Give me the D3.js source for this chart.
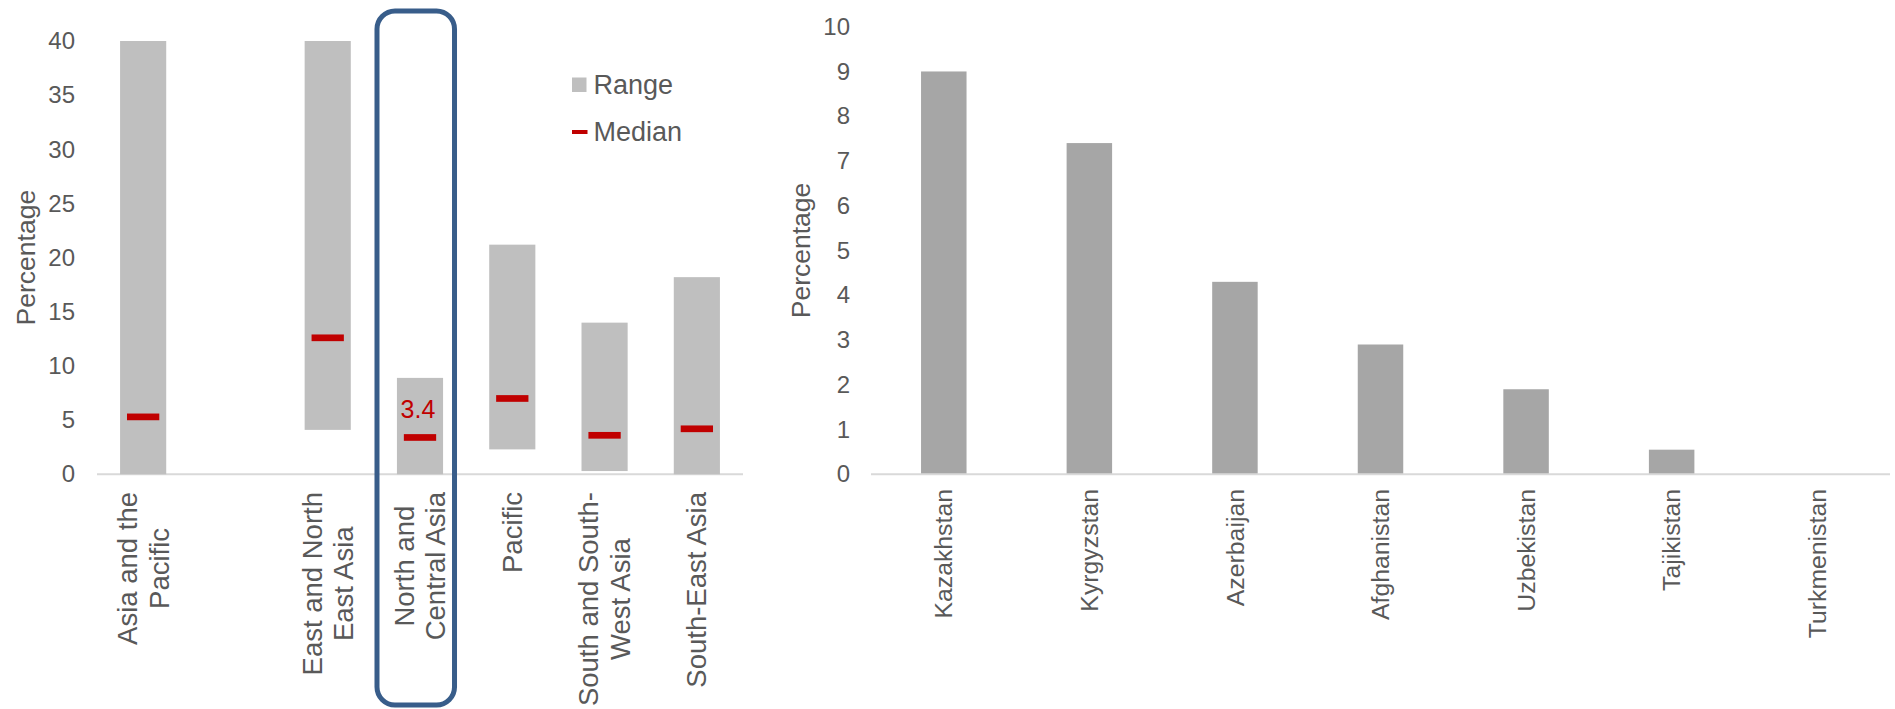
<!DOCTYPE html>
<html>
<head>
<meta charset="utf-8">
<script src="https://cdn.jsdelivr.net/npm/d3@7"></script>
<style>
  html, body { margin: 0; padding: 0; background: #ffffff; }
  svg { display: block; font-family: "Liberation Sans", Arial, sans-serif; }
</style>
</head>
<body>
<svg id="chart" width="1895" height="709"></svg>
<script>
// ---------- Data: left panel (regional range and median) ----------
const regions = [
  "Asia and the|Pacific",
  "",
  "East and North|East Asia",
  "North and|Central Asia",
  "Pacific",
  "South and South-|West Asia",
  "South-East Asia"
];
const rangeMin = [0, null, 4.1, 0, 2.3, 0.3, 0];
const rangeMax = [40, null, 40, 8.9, 21.2, 14.0, 18.2];
const medians  = [5.3, null, 12.6, 3.4, 7.0, 3.6, 4.2];
const highlightRegion = "North and|Central Asia";
const highlightLabel = "3.4";
const leftTicks = [0, 5, 10, 15, 20, 25, 30, 35, 40];

// ---------- Data: right panel (North and Central Asia countries) ----------
const countries = ["Kazakhstan", "Kyrgyzstan", "Azerbaijan", "Afghanistan", "Uzbekistan", "Tajikistan", "Turkmenistan"];
const countryValues = [9.0, 7.4, 4.3, 2.9, 1.9, 0.55, 0];
const rightTicks = [0, 1, 2, 3, 4, 5, 6, 7, 8, 9, 10];

const legendItems = ["Range", "Median"];
const yTitle = "Percentage";

// ---------- Styles ----------
const TEXT = "#595959";
const RANGE_FILL = "#bfbfbf";
const MEDIAN_FILL = "#c00000";
const BAR_FILL = "#a6a6a6";
const AXIS_LINE = "#d9d9d9";
const BOX = "#385d8a";
const TICK_FS = 24;

const svg = d3.select("#chart");

// ---------- Left panel ----------
const L = { x0: 97, x1: 743, yTop: 41, yBot: 474.3 };
const xL = d3.scaleBand().domain(regions).range([L.x0, L.x1]).paddingInner(0.5).paddingOuter(0.25);
const yL = d3.scaleLinear().domain([0, 40]).range([L.yBot, L.yTop]);

const left = svg.append("g");

// y tick labels
const axL = d3.axisLeft(yL).tickValues(leftTicks).tickSize(0).tickPadding(0);
const gAxL = left.append("g").attr("transform", `translate(75,0)`).call(axL);
gAxL.select(".domain").remove();
gAxL.selectAll("text").attr("fill", TEXT).style("font-size", TICK_FS + "px")
  .style("font-family", "'Liberation Sans', Arial, sans-serif");

// baseline
left.append("line").attr("x1", L.x0).attr("x2", L.x1)
  .attr("y1", yL(0)).attr("y2", yL(0)).attr("stroke", AXIS_LINE).attr("stroke-width", 2);

const leftData = regions.map((r, i) => ({ r, lo: rangeMin[i], hi: rangeMax[i], med: medians[i] }))
  .filter(d => d.hi !== null);

// range bars
left.selectAll("rect.range").data(leftData).join("rect")
  .attr("class", "range")
  .attr("x", d => xL(d.r))
  .attr("width", xL.bandwidth())
  .attr("y", d => yL(d.hi))
  .attr("height", d => yL(d.lo) - yL(d.hi))
  .attr("fill", RANGE_FILL);

// median markers
const medW = xL.bandwidth() * 0.7, medH = 6.7;
left.selectAll("rect.median").data(leftData).join("rect")
  .attr("class", "median")
  .attr("x", d => xL(d.r) + (xL.bandwidth() - medW) / 2)
  .attr("width", medW)
  .attr("y", d => yL(d.med) - medH / 2)
  .attr("height", medH)
  .attr("fill", MEDIAN_FILL);

// median label for highlighted region
const hi = leftData.find(d => d.r === highlightRegion);
left.append("text")
  .attr("x", xL(hi.r) + xL.bandwidth() / 2 - 2)
  .attr("y", yL(hi.med) - 19)
  .attr("text-anchor", "middle")
  .attr("fill", MEDIAN_FILL)
  .style("font-size", "25px")
  .text(highlightLabel);

// category labels (rotated, multi-line, centered lines, top aligned)
function drawRotatedLabels(g, cats, scale, top, fs, lh) {
  cats.forEach(c => {
    if (!c) return;
    const lines = c.split("|");
    const cx = scale(c) + scale.bandwidth() / 2;
    const grp = g.append("g").attr("transform", `translate(${cx},${top}) rotate(-90)`);
    const texts = lines.map((ln, i) => grp.append("text")
      .attr("text-anchor", "middle")
      .attr("fill", TEXT)
      .style("font-size", fs + "px")
      .attr("y", (i - (lines.length - 1) / 2) * lh + 0.35 * fs)
      .text(ln));
    const maxW = d3.max(texts, t => t.node().getComputedTextLength());
    texts.forEach(t => t.attr("x", -maxW / 2));
  });
}
drawRotatedLabels(left, regions, xL, 492, 27.5, 31.5);

// y title
left.append("text")
  .attr("transform", `translate(35,${(L.yTop + L.yBot) / 2}) rotate(-90)`)
  .attr("text-anchor", "middle").attr("fill", TEXT).style("font-size", "26.5px")
  .text(yTitle);

// legend
const lg = left.append("g").attr("transform", "translate(572,0)");
lg.append("rect").attr("x", 0).attr("y", 77.5).attr("width", 14.5).attr("height", 14.5).attr("fill", RANGE_FILL);
lg.append("text").attr("x", 21.5).attr("y", 94).attr("fill", TEXT).style("font-size", "27px").text(legendItems[0]);
lg.append("rect").attr("x", 0).attr("y", 130).attr("width", 15.5).attr("height", 4).attr("fill", MEDIAN_FILL);
lg.append("text").attr("x", 21.5).attr("y", 141).attr("fill", TEXT).style("font-size", "27px").text(legendItems[1]);

// highlight box around North and Central Asia
const boxCx = xL(highlightRegion) + xL.bandwidth() / 2;
left.append("rect")
  .attr("x", boxCx - xL.step() * 0.466)
  .attr("y", 11)
  .attr("width", xL.step() * 0.84)
  .attr("height", 694)
  .attr("rx", 18).attr("ry", 18)
  .attr("fill", "none")
  .attr("stroke", BOX)
  .attr("stroke-width", 5);

// ---------- Right panel ----------
const R = { x0: 871, x1: 1890, yTop: 26.7, yBot: 474.3 };
const xR = d3.scaleBand().domain(countries).range([R.x0, R.x1]).paddingInner(0.6875).paddingOuter(0.34375);
const yR = d3.scaleLinear().domain([0, 10]).range([R.yBot, R.yTop]);

const right = svg.append("g");
const axR = d3.axisLeft(yR).tickValues(rightTicks).tickSize(0).tickPadding(0);
const gAxR = right.append("g").attr("transform", `translate(850,0)`).call(axR);
gAxR.select(".domain").remove();
gAxR.selectAll("text").attr("fill", TEXT).style("font-size", TICK_FS + "px")
  .style("font-family", "'Liberation Sans', Arial, sans-serif");

right.selectAll("rect.bar").data(countries.map((c, i) => ({ c, v: countryValues[i] }))).join("rect")
  .attr("class", "bar")
  .attr("x", d => xR(d.c))
  .attr("width", xR.bandwidth())
  .attr("y", d => yR(d.v))
  .attr("height", d => yR(0) - yR(d.v))
  .attr("fill", BAR_FILL);

right.append("line").attr("x1", R.x0).attr("x2", R.x1)
  .attr("y1", yR(0)).attr("y2", yR(0)).attr("stroke", AXIS_LINE).attr("stroke-width", 2);

drawRotatedLabels(right, countries, xR, 489, 24.8, 28);

right.append("text")
  .attr("transform", `translate(810,${(R.yTop + R.yBot) / 2}) rotate(-90)`)
  .attr("text-anchor", "middle").attr("fill", TEXT).style("font-size", "26.5px")
  .text(yTitle);
</script>
</body>
</html>
